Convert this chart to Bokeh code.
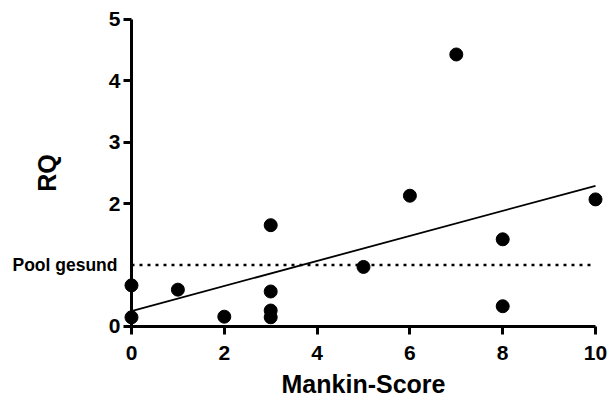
import numpy as np
from bokeh.plotting import figure
from bokeh.models import Range1d, FixedTicker, Label
from bokeh.embed import file_html
from bokeh.resources import INLINE

# data
mankin = [0, 0, 1, 2, 3, 3, 3, 3, 5, 6, 7, 8, 8, 10]
rq = [0.67, 0.15, 0.60, 0.16, 1.65, 0.57, 0.26, 0.15, 0.97, 2.13, 4.43, 1.42, 0.33, 2.07]
pool_gesund = 1.0
pool_label = "Pool gesund"
x_ticks = [0, 2, 4, 6, 8, 10]
y_ticks = [0, 2, 3, 4, 5]
x_title = "Mankin-Score"
y_title = "RQ"

FONT = "Liberation Sans"

p = figure(width=608, height=396, output_backend="svg", toolbar_location=None,
           x_range=Range1d(-2.823, 10.280), y_range=Range1d(-1.140, 5.309),
           min_border=0)
p.outline_line_color = None
p.xgrid.visible = False
p.ygrid.visible = False
p.background_fill_color = "white"
p.border_fill_color = "white"

# regression line (least squares fit of the data)
slope, intercept = np.polyfit(mankin, rq, 1)
fx = np.array([min(mankin), max(mankin)], dtype=float)
p.line(fx, intercept + slope * fx, line_color="black", line_width=1.8)

# reference level
p.line([min(x_ticks), max(x_ticks)], [pool_gesund, pool_gesund],
       line_color="black", line_width=2.5, line_dash="3 5")

p.scatter(mankin, rq, size=13, fill_color="black", line_color="black")

p.add_layout(Label(x=0, y=pool_gesund, x_offset=-14, text=pool_label,
                   text_align="right", text_baseline="middle",
                   text_font=FONT, text_font_style="bold",
                   text_font_size="17.5px", text_color="black"))

for ax in (p.xaxis[0], p.yaxis[0]):
    ax.axis_line_width = 3
    ax.axis_line_color = "black"
    ax.major_tick_line_width = 3
    ax.major_tick_line_color = "black"
    ax.major_tick_in = 0
    ax.major_tick_out = 8
    ax.minor_tick_line_color = None
    ax.major_label_text_font = FONT
    ax.major_label_text_font_style = "bold"
    ax.major_label_text_font_size = "21px"
    ax.major_label_text_color = "black"
    ax.axis_label_text_font = FONT
    ax.axis_label_text_font_style = "bold"
    ax.axis_label_text_font_size = "25px"
    ax.axis_label_text_color = "black"

p.xaxis.ticker = FixedTicker(ticks=x_ticks)
p.yaxis.ticker = FixedTicker(ticks=y_ticks)
p.xaxis.bounds = (min(x_ticks), max(x_ticks))
p.yaxis.bounds = (min(y_ticks), max(y_ticks))
p.yaxis.fixed_location = 0
p.xaxis.fixed_location = 0
p.xaxis.axis_label = x_title
p.yaxis.axis_label = y_title
p.xaxis.major_label_standoff = 12
p.yaxis.major_label_standoff = 3
p.xaxis.axis_label_standoff = 6
p.yaxis.axis_label_standoff = 45

open("out.html", "w").write(file_html(p, INLINE))
